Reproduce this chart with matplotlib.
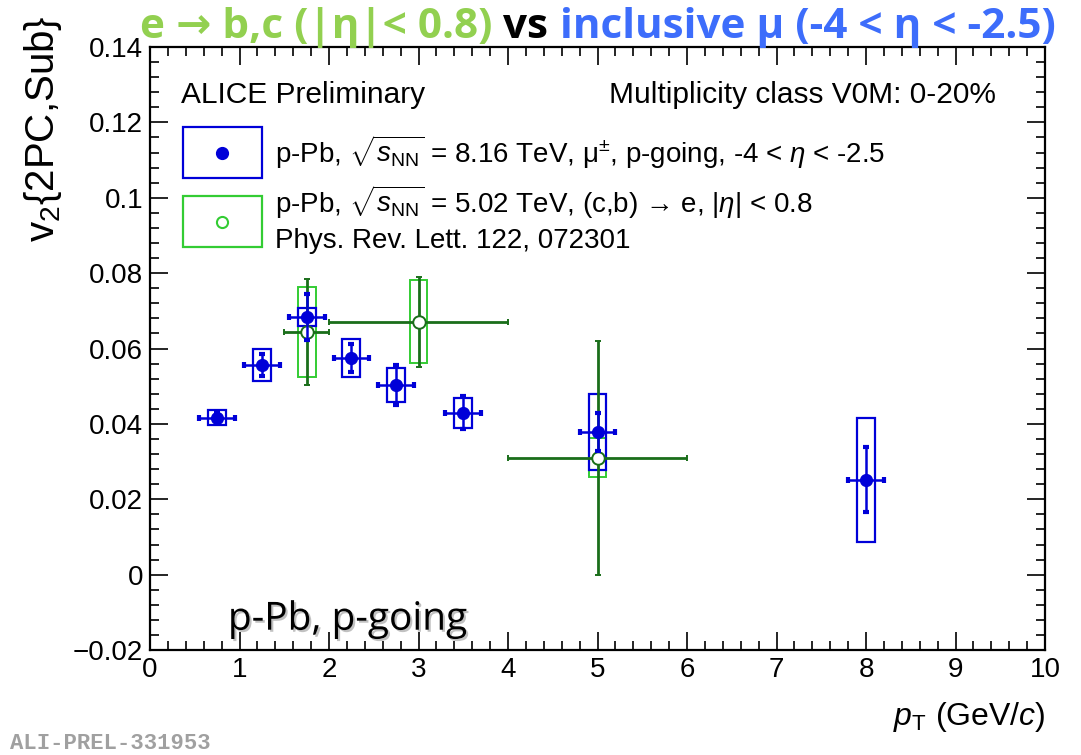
import numpy as np
import matplotlib
matplotlib.use("Agg")
import matplotlib.pyplot as plt
from matplotlib.patches import Rectangle
from matplotlib.ticker import MultipleLocator
import matplotlib.patheffects as pe

# inclusive muons, p-Pb 8.16 TeV, p-going
mu_pt = np.array([0.75, 1.25, 1.75, 2.25, 2.75, 3.5, 5.0, 8.0])
mu_v2 = np.array([0.0416, 0.0557, 0.0684, 0.0575, 0.0504, 0.0430, 0.0379, 0.0252])
mu_stat = np.array([0.0012, 0.0029, 0.0060, 0.0038, 0.0053, 0.0043, 0.0050, 0.0086])
mu_sys = np.array([0.0020, 0.0042, 0.0024, 0.0050, 0.0045, 0.0040, 0.0100, 0.0164])
mu_xerr = np.array([0.2, 0.2, 0.2, 0.2, 0.2, 0.2, 0.2, 0.2])

# heavy-flavour electrons, p-Pb 5.02 TeV (PRL 122, 072301)
e_pt = np.array([1.75, 3.0, 5.0])
e_v2 = np.array([0.0644, 0.0671, 0.0310])
e_stat = np.array([0.0140, 0.0120, 0.0310])
e_sys = np.array([0.0120, 0.0110, 0.0052])
e_xerr = np.array([0.25, 1.0, 1.0])

box_half = 0.1

blue = "#0000d8"
green_box = "#33cc33"
green_bar = "#1a6e1a"

plt.rcParams['font.family'] = ['Liberation Sans', 'DejaVu Sans']
plt.rcParams['mathtext.fontset'] = 'custom'
plt.rcParams['mathtext.rm'] = 'Liberation Sans'
plt.rcParams['mathtext.it'] = 'Liberation Sans:italic'

fig = plt.figure(figsize=(10.81, 7.55), dpi=100)
ax = fig.add_axes([0.1388, 0.139, 0.8279, 0.7987])

# systematic boxes
for x, y, s in zip(mu_pt, mu_v2, mu_sys):
    ax.add_patch(Rectangle((x - box_half, y - s), 2 * box_half, 2 * s,
                           fill=False, ec=blue, lw=1.6, zorder=3))
for x, y, s in zip(e_pt, e_v2, e_sys):
    ax.add_patch(Rectangle((x - box_half, y - s), 2 * box_half, 2 * s,
                           fill=False, ec=green_box, lw=1.4, zorder=2))

ax.errorbar(e_pt, e_v2, yerr=e_stat, xerr=e_xerr, fmt='o', ms=9,
            mfc='white', mec=green_bar, mew=1.4, ecolor=green_bar,
            elinewidth=2, capsize=2.5, capthick=3, zorder=4)
ax.errorbar(mu_pt, mu_v2, yerr=mu_stat, xerr=mu_xerr, fmt='o', ms=8.5,
            color=blue, ecolor=blue, elinewidth=1.8, capsize=2.5,
            capthick=3, zorder=5)

ax.set_xlim(0, 10)
ax.set_ylim(-0.02, 0.14)
ax.xaxis.set_major_locator(MultipleLocator(1))
ax.xaxis.set_minor_locator(MultipleLocator(0.2))
ax.yaxis.set_minor_locator(MultipleLocator(0.004))
ax.set_yticks(np.arange(-0.02, 0.141, 0.02))
ax.set_yticklabels(['\u22120.02', '0', '0.02', '0.04', '0.06', '0.08', '0.1', '0.12', '0.14'])
ax.tick_params(which='both', direction='in', top=True, right=True, labelsize=20, width=1.2)
ax.tick_params(which='major', length=13, pad=5)
ax.tick_params(which='minor', length=6.5)
for sp in ax.spines.values():
    sp.set_linewidth(1.6)

ax.set_xlabel(r'$p_{\mathrm{T}}$ (GeV/$c$)', fontsize=23, loc='right', labelpad=12)
ax.set_ylabel(r'v$_{2}${2PC,Sub}', fontsize=29, loc='top')
ax.yaxis.set_label_coords(-0.096, 1.053)

ax.text(0.35, 0.1273, 'ALICE Preliminary', fontsize=21.5, va='center')
ax.text(9.45, 0.1273, 'Multiplicity class V0M: 0-20%', fontsize=21.5, va='center', ha='right')

# legend entries
def leg_axes(px, py):
    return ((px - 150) / 895, (650 - py) / 603)

for (y0, y1), ec, mfc in [((127, 178), blue, blue), ((196, 247), green_box, 'white')]:
    xa0, ya1 = leg_axes(183, y1)
    xa1, ya0 = leg_axes(262, y0)
    ax.add_patch(Rectangle((xa0, ya1), xa1 - xa0, ya0 - ya1, transform=ax.transAxes,
                           fill=False, ec=ec, lw=1.6, zorder=6))
    cx, cy = leg_axes(222, (y0 + y1) / 2)
    ax.plot([cx], [cy], 'o', transform=ax.transAxes, ms=8,
            mfc=mfc, mec=(blue if mfc == blue else green_box), mew=1.5, zorder=7)

tx, ty = leg_axes(275, 152)
ax.text(tx, ty, 'p-Pb, $\\sqrt{s_{\\mathrm{NN}}}$ = 8.16 TeV, \u03bc$^{\\pm}$, p-going, -4 < $\\eta$ < -2.5',
        transform=ax.transAxes, fontsize=20, va='center')
tx, ty = leg_axes(275, 202)
ax.text(tx, ty, 'p-Pb, $\\sqrt{s_{\\mathrm{NN}}}$ = 5.02 TeV, (c,b) \u2192 e, |$\\eta$| < 0.8',
        transform=ax.transAxes, fontsize=20, va='center')
tx, ty = leg_axes(275, 241)
ax.text(tx, ty, 'Phys. Rev. Lett. 122, 072301', transform=ax.transAxes, fontsize=20, va='center')

ax.text(0.87, -0.0146, 'p-Pb, p-going', fontsize=28, family='Open Sans', va='baseline',
        path_effects=[pe.SimplePatchShadow(offset=(1.5, -1.5), shadow_rgbFace='#999999', alpha=0.6),
                      pe.Normal()])

# coloured headline
head = dict(fontsize=30.4, fontweight='bold', family=['Open Sans', 'DejaVu Sans'], va='baseline')
t1 = fig.text(140 / 1081, 1 - 38 / 755, 'e \u2192 b,c (|\u03b7|< 0.8)', color='#92d050', **head)
t2 = fig.text(0, 0, ' vs ', color='black', **head)
t3 = fig.text(0, 0, 'inclusive \u03bc (-4 < \u03b7 < -2.5)', color='#3d6dfb', **head)
fig.canvas.draw()
r = fig.canvas.get_renderer()
inv = fig.transFigure.inverted()
b1 = t1.get_window_extent(r)
t2.set_position((inv.transform((b1.x1, 0))[0], 1 - 38 / 755))
b2 = t2.get_window_extent(r)
t3.set_position((inv.transform((b2.x1, 0))[0], 1 - 38 / 755))

fig.text(10 / 1081, 1 - 749 / 755, 'ALI-PREL-331953', family='Liberation Mono',
         fontweight='bold', fontsize=16, color='#a0a0a0', va='baseline')

fig.savefig('out.png', dpi=100)
